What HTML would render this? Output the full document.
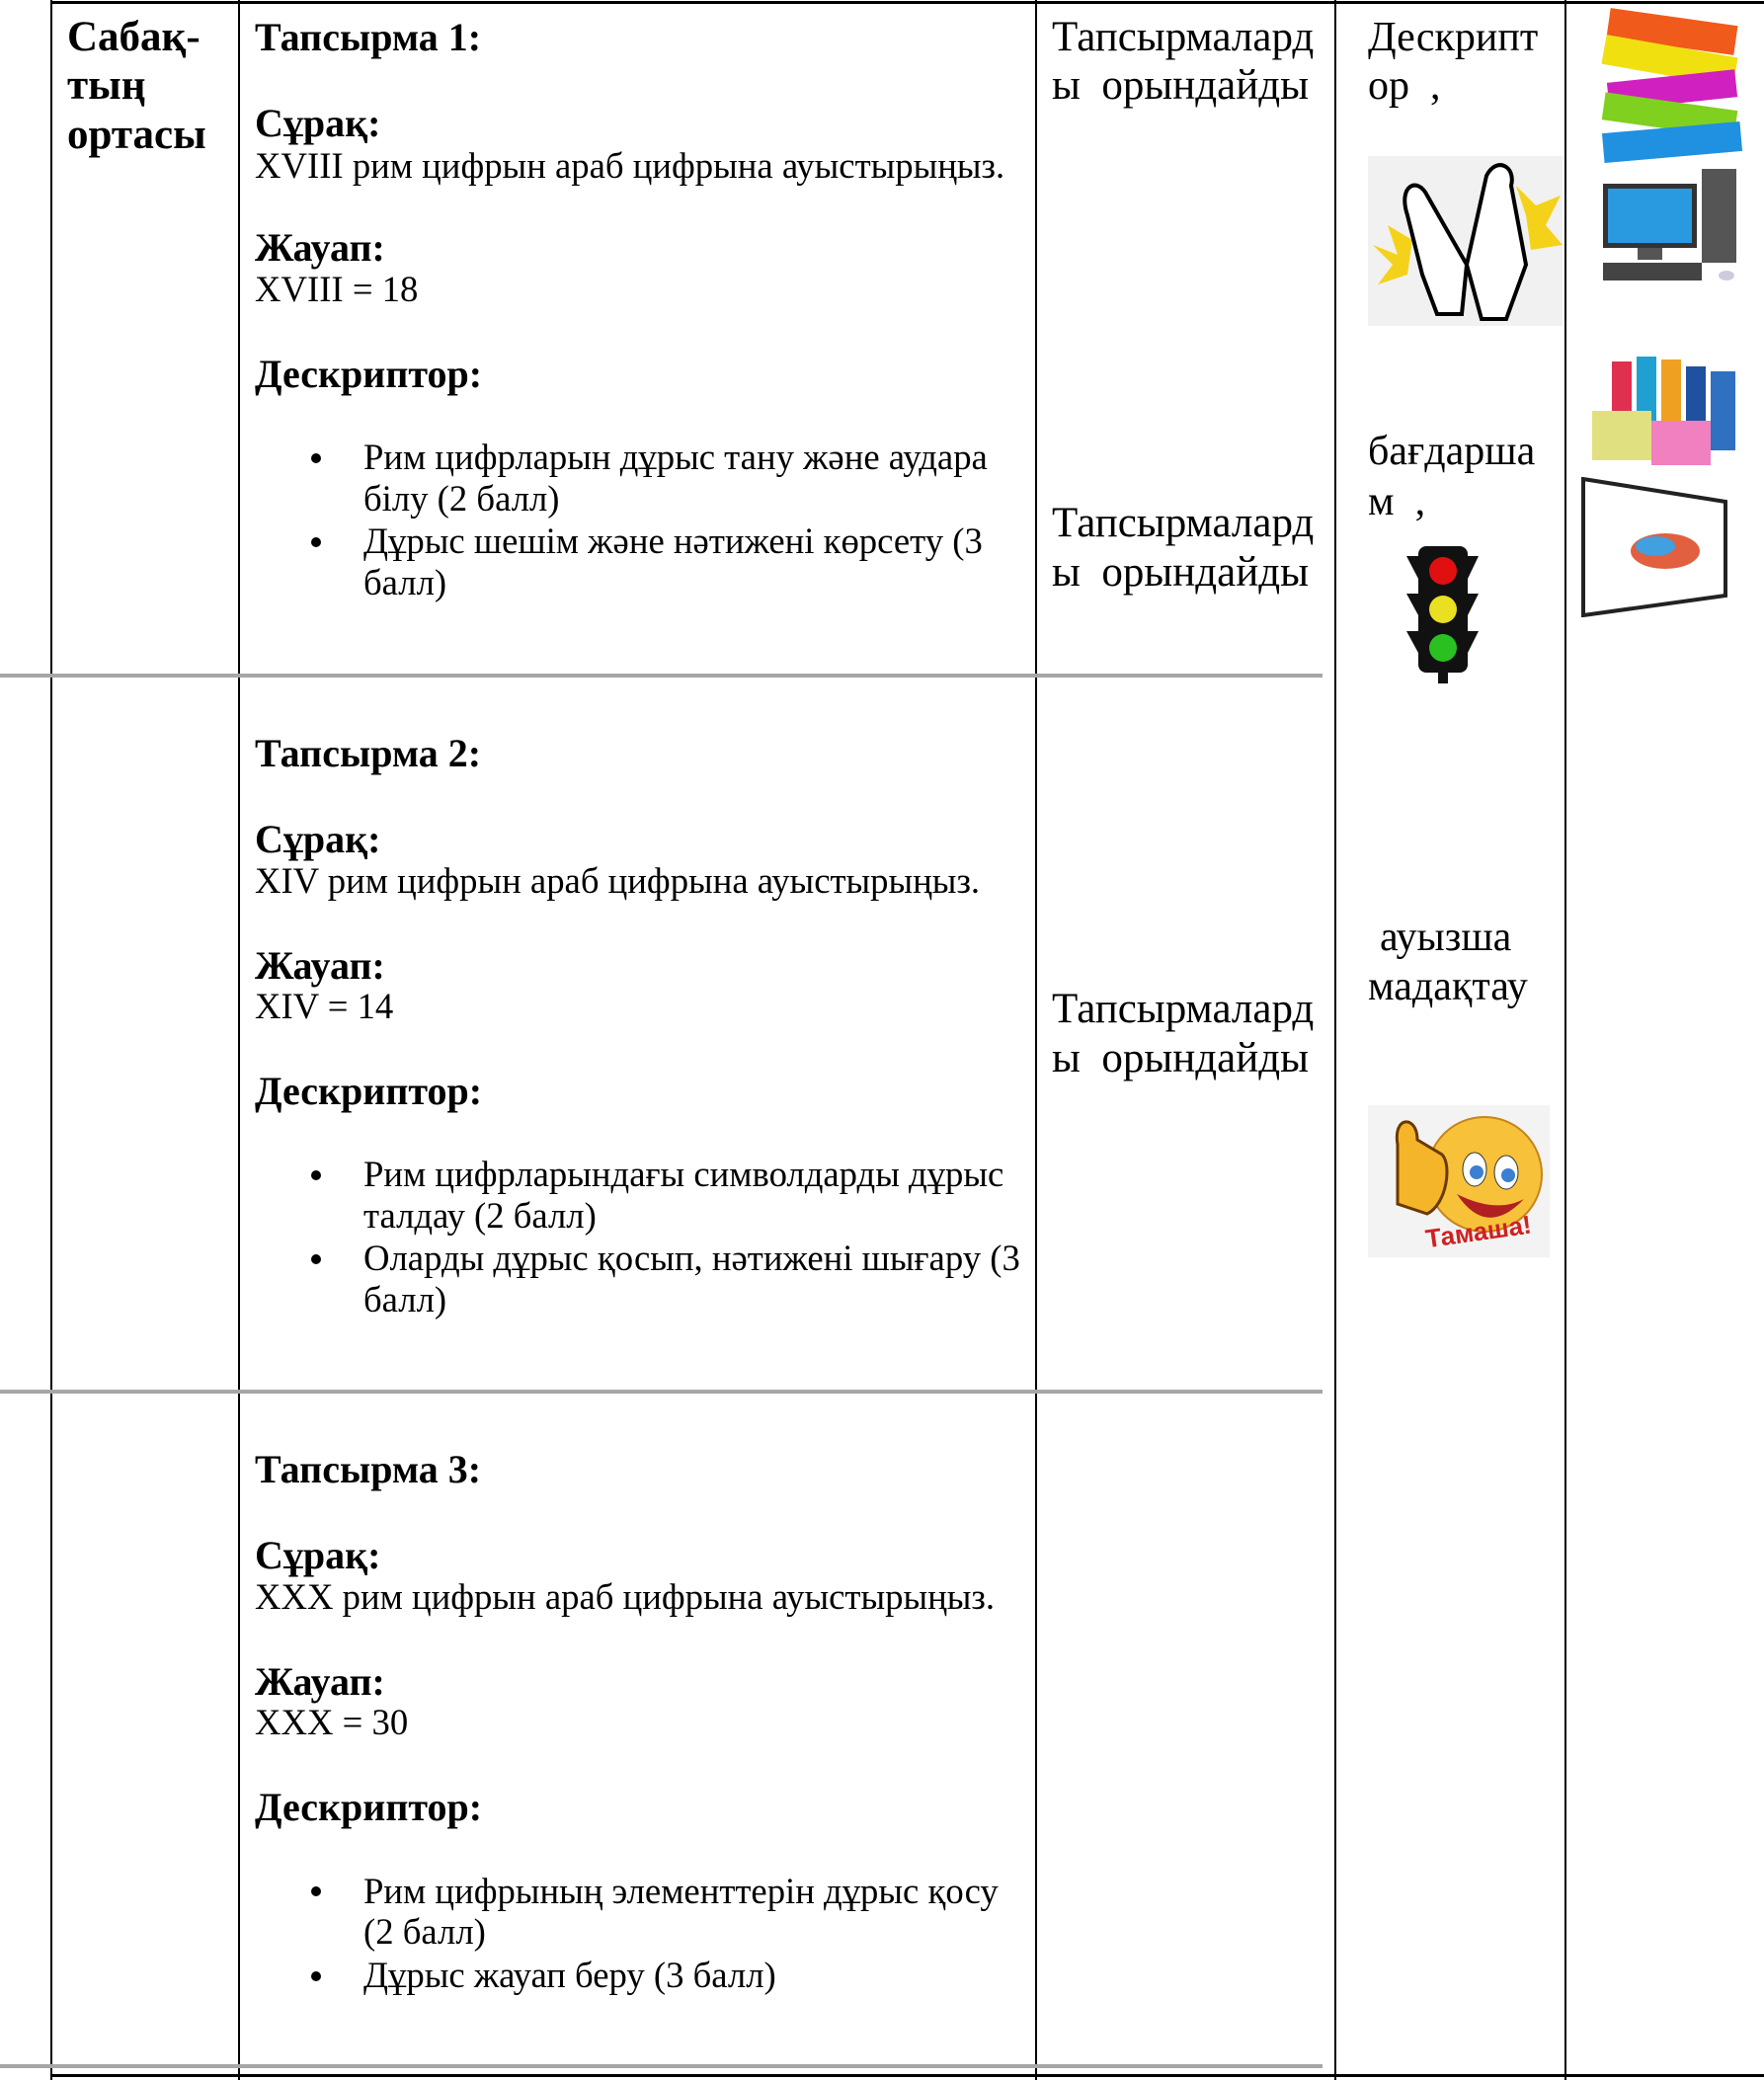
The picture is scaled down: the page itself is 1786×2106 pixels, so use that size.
<!DOCTYPE html>
<html><head><meta charset="utf-8">
<style>
html,body{margin:0;padding:0;background:#fff;}
body{width:1786px;height:2106px;position:relative;overflow:hidden;font-family:"Liberation Serif",serif;color:#000;}
.t{position:absolute;white-space:nowrap;font-size:36.7px;line-height:42px;}
.t.b{font-weight:bold;font-size:40px;}
.c3{position:absolute;white-space:nowrap;font-size:43px;line-height:50px;}
.c4{position:absolute;white-space:nowrap;font-size:42px;line-height:50px;}
.c1{position:absolute;white-space:nowrap;font-size:43px;line-height:50px;font-weight:bold;}
.v{position:absolute;top:0;width:2px;background:#000;height:2106px;}
.g{position:absolute;left:0;width:1339px;height:4px;background:#a6a6a6;}
.dot{position:absolute;width:10px;height:10px;border-radius:50%;background:#000;}
</style></head><body>
<div style="position:absolute;left:51px;top:1px;width:1735px;height:3px;background:#000"></div>
<div class="v" style="left:51px"></div>
<div class="v" style="left:241px"></div>
<div class="v" style="left:1048px"></div>
<div class="v" style="left:1351px"></div>
<div class="v" style="left:1584px"></div>
<div class="g" style="top:682px"></div>
<div class="g" style="top:1407px"></div>
<div class="g" style="top:2090px"></div>
<div style="position:absolute;left:51px;top:2100px;width:1735px;height:3px;background:#000"></div>

<div class="c1" style="left:68px;top:13px">Сабақ-</div>
<div class="c1" style="left:68px;top:62px">тың</div>
<div class="c1" style="left:68px;top:112px">ортасы</div>

<!-- Task 1 -->
<div class="t b" style="left:258px;top:17px">Тапсырма 1:</div>
<div class="t b" style="left:258px;top:104px">Сұрақ:</div>
<div class="t" style="left:258px;top:147px">XVIII рим цифрын араб цифрына ауыстырыңыз.</div>
<div class="t b" style="left:258px;top:230px">Жауап:</div>
<div class="t" style="left:258px;top:272px">XVIII = 18</div>
<div class="t b" style="left:258px;top:358px">Дескриптор:</div>
<div class="dot" style="left:315px;top:459px"></div>
<div class="t" style="left:368px;top:442px">Рим цифрларын дұрыс тану және аудара</div>
<div class="t" style="left:368px;top:484px">білу (2 балл)</div>
<div class="dot" style="left:315px;top:544px"></div>
<div class="t" style="left:368px;top:527px">Дұрыс шешім және нәтижені көрсету (3</div>
<div class="t" style="left:368px;top:569px">балл)</div>

<!-- Task 2 -->
<div class="t b" style="left:258px;top:742px">Тапсырма 2:</div>
<div class="t b" style="left:258px;top:829px">Сұрақ:</div>
<div class="t" style="left:258px;top:871px">XIV рим цифрын араб цифрына ауыстырыңыз.</div>
<div class="t b" style="left:258px;top:957px">Жауап:</div>
<div class="t" style="left:258px;top:998px">XIV = 14</div>
<div class="t b" style="left:258px;top:1084px">Дескриптор:</div>
<div class="dot" style="left:315px;top:1185px"></div>
<div class="t" style="left:368px;top:1168px">Рим цифрларындағы символдарды дұрыс</div>
<div class="t" style="left:368px;top:1210px">талдау (2 балл)</div>
<div class="dot" style="left:315px;top:1270px"></div>
<div class="t" style="left:368px;top:1253px">Оларды дұрыс қосып, нәтижені шығару (3</div>
<div class="t" style="left:368px;top:1295px">балл)</div>

<!-- Task 3 -->
<div class="t b" style="left:258px;top:1467px">Тапсырма 3:</div>
<div class="t b" style="left:258px;top:1554px">Сұрақ:</div>
<div class="t" style="left:258px;top:1596px">XXX рим цифрын араб цифрына ауыстырыңыз.</div>
<div class="t b" style="left:258px;top:1682px">Жауап:</div>
<div class="t" style="left:258px;top:1723px">XXX = 30</div>
<div class="t b" style="left:258px;top:1809px">Дескриптор:</div>
<div class="dot" style="left:315px;top:1910px"></div>
<div class="t" style="left:368px;top:1894px">Рим цифрының элементтерін дұрыс қосу</div>
<div class="t" style="left:368px;top:1935px">(2 балл)</div>
<div class="dot" style="left:315px;top:1996px"></div>
<div class="t" style="left:368px;top:1979px">Дұрыс жауап беру (3 балл)</div>

<!-- Column 3 -->
<div class="c3" style="left:1065px;top:13px">Тапсырмалард</div>
<div class="c3" style="left:1065px;top:62px">ы&nbsp; орындайды</div>
<div class="c3" style="left:1065px;top:505px">Тапсырмалард</div>
<div class="c3" style="left:1065px;top:555px">ы&nbsp; орындайды</div>
<div class="c3" style="left:1065px;top:997px">Тапсырмалард</div>
<div class="c3" style="left:1065px;top:1047px">ы&nbsp; орындайды</div>

<!-- Column 4 -->
<div class="c4" style="left:1385px;top:13px">Дескрипт</div>
<div class="c4" style="left:1385px;top:62px">ор&nbsp; ,</div>
<div class="c4" style="left:1385px;top:432px">бағдарша</div>
<div class="c4" style="left:1385px;top:483px">м&nbsp; ,</div>
<div class="c4" style="left:1397px;top:924px">ауызша</div>
<div class="c4" style="left:1385px;top:974px">мадақтау</div>

<!-- clap -->
<svg style="position:absolute;left:1385px;top:158px" width="197" height="172" viewBox="0 0 197 172">
<rect width="197" height="172" fill="#f1f1f1"/>
<polygon points="5,90 30,100 20,70 45,85 40,120 10,130 25,110" fill="#f5d21a"/>
<polygon points="150,30 170,50 195,40 180,70 197,90 165,95 160,60" fill="#f5d21a"/>
<path d="M40,60 C30,30 50,20 60,40 L100,110 L95,160 L70,160 L55,120 Z" fill="#fff" stroke="#000" stroke-width="4"/>
<path d="M120,20 C130,0 150,10 145,30 L160,110 L140,165 L115,165 L100,110 Z" fill="#fff" stroke="#000" stroke-width="4"/>
</svg>

<!-- traffic light -->
<svg style="position:absolute;left:1424px;top:551px" width="73" height="141" viewBox="0 0 73 141">
<rect x="12" y="2" width="50" height="128" rx="8" fill="#111"/>
<polygon points="0,12 12,12 12,35" fill="#111"/><polygon points="73,12 62,12 62,35" fill="#111"/>
<polygon points="0,50 12,50 12,72" fill="#111"/><polygon points="73,50 62,50 62,72" fill="#111"/>
<polygon points="0,88 12,88 12,110" fill="#111"/><polygon points="73,88 62,88 62,110" fill="#111"/>
<rect x="32" y="128" width="10" height="13" fill="#111"/>
<circle cx="37" cy="27" r="14" fill="#e01010"/>
<circle cx="37" cy="66" r="14" fill="#e8e020"/>
<circle cx="37" cy="105" r="14" fill="#2ac020"/>
</svg>

<!-- smiley -->
<svg style="position:absolute;left:1385px;top:1119px" width="184" height="154" viewBox="0 0 184 154">
<rect width="184" height="154" fill="#f3f3f3"/>
<circle cx="118" cy="70" r="58" fill="#f7c23a" stroke="#c8841a" stroke-width="2"/>
<ellipse cx="108" cy="65" rx="12" ry="17" fill="#fff" stroke="#333"/><circle cx="110" cy="68" r="7" fill="#3a7fd0"/>
<ellipse cx="140" cy="68" rx="12" ry="17" fill="#fff" stroke="#333"/><circle cx="142" cy="71" r="7" fill="#3a7fd0"/>
<path d="M90,90 Q120,135 158,95 Q130,110 90,90Z" fill="#b02020"/>
<path d="M30,40 C25,10 50,10 50,35 L75,50 C85,60 80,100 60,110 L30,100 Z" fill="#f5b52a" stroke="#6a3a00" stroke-width="3"/>
<text x="58" y="140" font-family="Liberation Sans,sans-serif" font-weight="bold" font-size="26" fill="#d02020" transform="rotate(-8 90 130)">Тамаша!</text>
</svg>

<!-- books -->
<svg style="position:absolute;left:1618px;top:7px" width="161" height="158" viewBox="0 0 161 158">
<rect x="10" y="10" width="130" height="30" fill="#f05a1a" transform="rotate(8 75 25)"/>
<rect x="5" y="40" width="135" height="30" fill="#f0e010" transform="rotate(10 75 55)"/>
<rect x="10" y="70" width="130" height="28" fill="#d020c0" transform="rotate(-6 75 84)"/>
<rect x="5" y="96" width="135" height="28" fill="#80d020" transform="rotate(8 75 110)"/>
<rect x="5" y="122" width="140" height="30" fill="#2090e0" transform="rotate(-5 75 137)"/>
</svg>

<!-- computer -->
<svg style="position:absolute;left:1618px;top:171px" width="152" height="122" viewBox="0 0 152 122">
<rect x="5" y="15" width="95" height="65" fill="#333"/><rect x="10" y="20" width="85" height="55" fill="#2a9ae0"/>
<rect x="40" y="80" width="25" height="12" fill="#555"/>
<rect x="105" y="0" width="35" height="95" fill="#555"/>
<rect x="5" y="95" width="100" height="18" fill="#444"/>
<ellipse cx="130" cy="108" rx="8" ry="5" fill="#ccd"/>
</svg>

<!-- stationery -->
<svg style="position:absolute;left:1602px;top:356px" width="173" height="117" viewBox="0 0 173 117">
<rect x="30" y="10" width="20" height="90" fill="#e03050"/><rect x="55" y="5" width="20" height="95" fill="#20a0d0"/>
<rect x="80" y="8" width="20" height="92" fill="#f0a020"/><rect x="105" y="15" width="20" height="85" fill="#2050a0"/>
<rect x="130" y="20" width="25" height="80" fill="#3070c0"/>
<rect x="10" y="60" width="60" height="50" fill="#e0e080"/><rect x="70" y="70" width="60" height="45" fill="#f080c0"/>
</svg>

<!-- whiteboard -->
<svg style="position:absolute;left:1601px;top:483px" width="148" height="142" viewBox="0 0 148 142">
<polygon points="2,2 146,25 146,120 2,140" fill="#fff" stroke="#222" stroke-width="4"/>
<ellipse cx="85" cy="75" rx="35" ry="18" fill="#e06040"/><ellipse cx="75" cy="70" rx="20" ry="10" fill="#40a0e0"/>
</svg>
</body></html>
